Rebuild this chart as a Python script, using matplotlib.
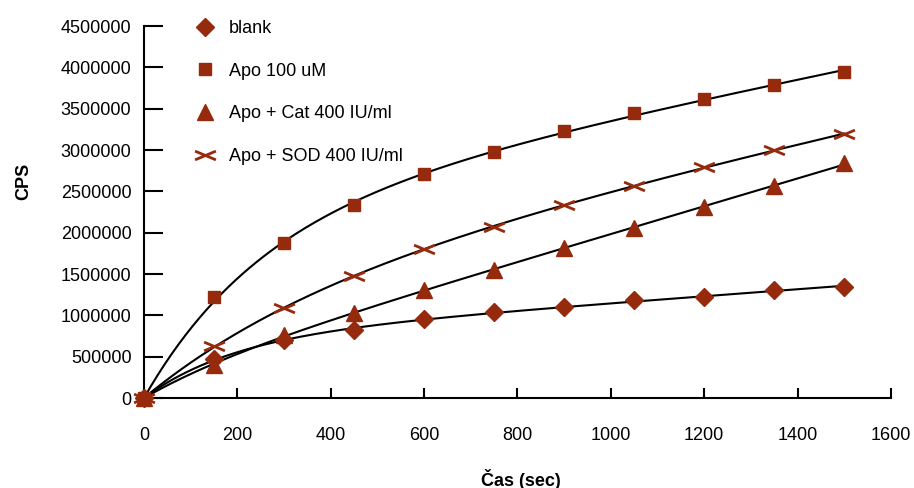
import matplotlib
matplotlib.use("Agg")
import matplotlib.pyplot as plt
import numpy as np
from matplotlib.path import Path
from matplotlib.ticker import FuncFormatter

plt.rcParams['font.family'] = ['Liberation Sans', 'DejaVu Sans']

# cas v sekundach
cas = [0, 150, 300, 450, 600, 750, 900, 1050, 1200, 1350, 1500]

blank = [0, 470000, 700000, 820000, 950000, 1040000, 1100000, 1180000, 1225000, 1310000, 1340000]
apo = [0, 1220000, 1875000, 2330000, 2710000, 2975000, 3230000, 3450000, 3620000, 3790000, 3940000]
apo_cat = [0, 400000, 760000, 1030000, 1310000, 1550000, 1820000, 2060000, 2310000, 2565000, 2840000]
apo_sod = [0, 630000, 1085000, 1476000, 1800000, 2070000, 2340000, 2570000, 2790000, 3000000, 3190000]

labels = ['blank', 'Apo 100 uM', 'Apo + Cat 400 IU/ml', 'Apo + SOD 400 IU/ml']
col = '#952a0d'

# sirsi plochy krizek
xmark = Path([(-1, -0.42), (1, 0.42), (-1, 0.42), (1, -0.42)],
             [Path.MOVETO, Path.LINETO, Path.MOVETO, Path.LINETO])


def fit_curve(t, y):
    # y = a*(1-exp(-k t)) + c*t, k hledame po mrizce
    t = np.asarray(t, float)
    y = np.asarray(y, float)
    best = None
    for k in np.logspace(-4, -1, 400):
        A = np.column_stack([1 - np.exp(-k * t), t])
        coef, *_ = np.linalg.lstsq(A, y, rcond=None)
        err = np.sum((A @ coef - y) ** 2)
        if best is None or err < best[0]:
            best = (err, k, coef)
    _, k, coef = best
    tt = np.linspace(0, t.max(), 300)
    return tt, coef[0] * (1 - np.exp(-k * tt)) + coef[1] * tt


fig = plt.figure(figsize=(9.14, 4.88), dpi=100)
ax = fig.add_axes([0.1575, 0.1844, 0.8173, 0.7623])

styles = [dict(marker='D', ms=9),
          dict(marker='s', ms=9),
          dict(marker='^', ms=11),
          dict(marker=xmark, ms=15, mew=2)]

for data, lab, st in zip([blank, apo, apo_cat, apo_sod], labels, styles):
    tt, yy = fit_curve(cas, data)
    ax.plot(tt, yy, color='black', lw=1.5, zorder=2)
    ax.plot(cas, data, ls='none', color=col, mec=col, label=lab,
            zorder=3, clip_on=False, **st)

ax.set_xlim(0, 1600)
ax.set_ylim(0, 4500000)
ax.set_xticks(range(0, 1601, 200))
ax.set_yticks(range(0, 4500001, 500000))
ax.yaxis.set_major_formatter(FuncFormatter(lambda v, p: '%d' % v))
ax.spines['top'].set_visible(False)
ax.spines['right'].set_visible(False)
ax.spines['left'].set_linewidth(1.5)
ax.spines['bottom'].set_linewidth(1.5)
ax.tick_params(axis='y', direction='in', length=13.5, width=1.5, pad=9, labelsize=13)
ax.tick_params(axis='x', direction='in', length=7, width=1.5, pad=21, labelsize=13)

ax.set_xlabel('Čas (sec)', fontsize=13, fontweight='bold')
ax.set_ylabel('CPS', fontsize=13, fontweight='bold')
ax.xaxis.set_label_coords(0.505, -0.19)
ax.yaxis.set_label_coords(-0.15, 0.583)

ax.legend(loc='upper left', bbox_to_anchor=(0.069, 1.016), frameon=False,
          fontsize=13, borderpad=0, borderaxespad=0, handlelength=1.0,
          handletextpad=0.85, labelspacing=1.42)

fig.savefig('out.png', dpi=100)
